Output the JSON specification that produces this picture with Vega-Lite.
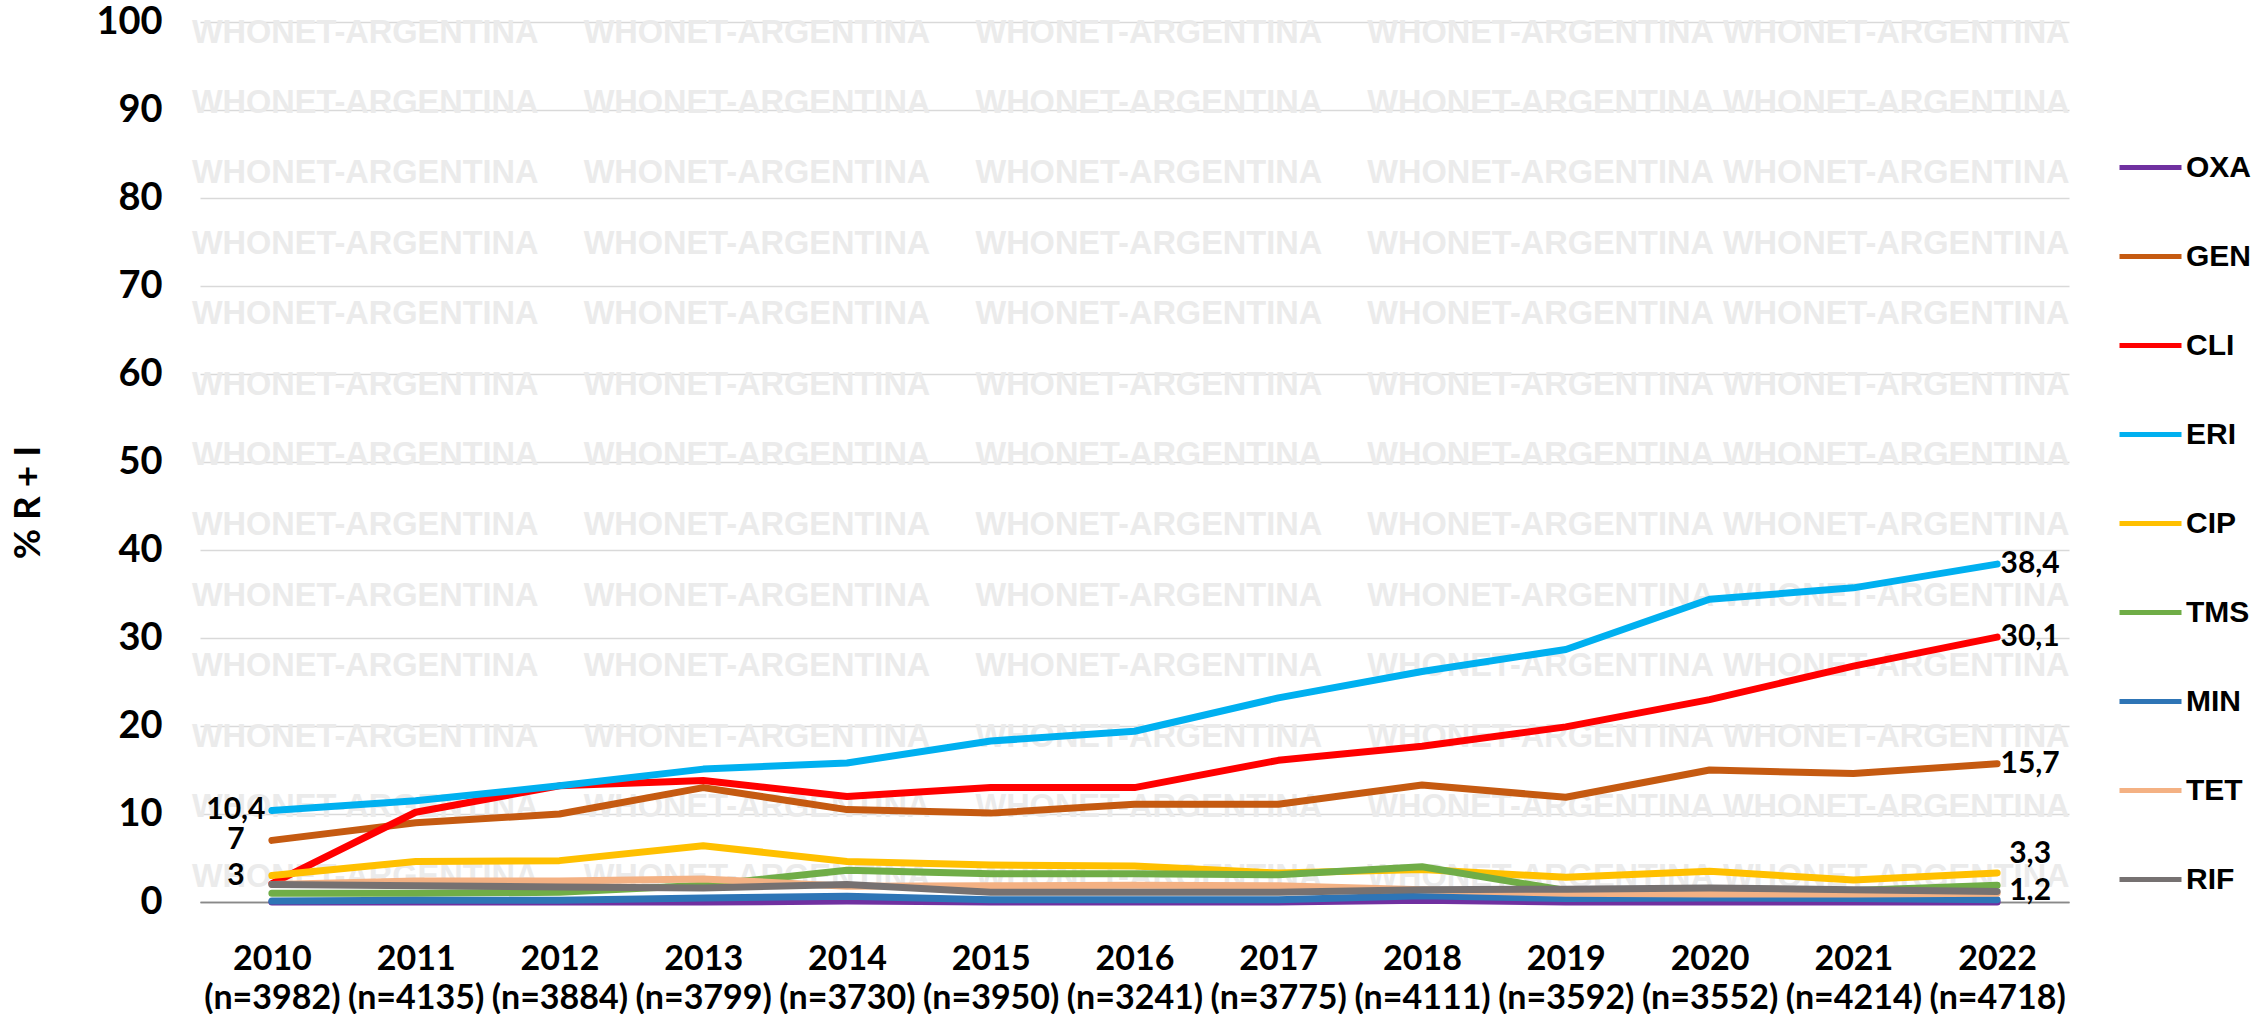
{
  "$schema": "https://vega.github.io/schema/vega-lite/v6.json",
  "autosize": "none",
  "width": 1869,
  "height": 880,
  "padding": {"left": 200, "top": 22, "right": 194, "bottom": 112},
  "background": "white",
  "config": {"view": {"stroke": null}},
  "datasets": {
    "wm": [
      {"v": 98.8}, {"v": 90.8}, {"v": 82.8}, {"v": 74.8}, {"v": 66.8}, {"v": 58.8}, {"v": 50.8},
      {"v": 42.8}, {"v": 34.8}, {"v": 26.8}, {"v": 18.8}, {"v": 10.8}, {"v": 2.8}
    ],
    "main": [
      {"period": "2010 (n=3982)", "series": "OXA", "value": 0},
      {"period": "2011 (n=4135)", "series": "OXA", "value": 0},
      {"period": "2012 (n=3884)", "series": "OXA", "value": 0},
      {"period": "2013 (n=3799)", "series": "OXA", "value": 0},
      {"period": "2014 (n=3730)", "series": "OXA", "value": 0.1},
      {"period": "2015 (n=3950)", "series": "OXA", "value": 0},
      {"period": "2016 (n=3241)", "series": "OXA", "value": 0},
      {"period": "2017 (n=3775)", "series": "OXA", "value": 0},
      {"period": "2018 (n=4111)", "series": "OXA", "value": 0.2},
      {"period": "2019 (n=3592)", "series": "OXA", "value": 0},
      {"period": "2020 (n=3552)", "series": "OXA", "value": 0},
      {"period": "2021 (n=4214)", "series": "OXA", "value": 0},
      {"period": "2022 (n=4718)", "series": "OXA", "value": 0},

      {"period": "2010 (n=3982)", "series": "GEN", "value": 7, "label": "7"},
      {"period": "2011 (n=4135)", "series": "GEN", "value": 9.0},
      {"period": "2012 (n=3884)", "series": "GEN", "value": 10.0},
      {"period": "2013 (n=3799)", "series": "GEN", "value": 13.0},
      {"period": "2014 (n=3730)", "series": "GEN", "value": 10.5},
      {"period": "2015 (n=3950)", "series": "GEN", "value": 10.1},
      {"period": "2016 (n=3241)", "series": "GEN", "value": 11.1},
      {"period": "2017 (n=3775)", "series": "GEN", "value": 11.1},
      {"period": "2018 (n=4111)", "series": "GEN", "value": 13.3},
      {"period": "2019 (n=3592)", "series": "GEN", "value": 11.9},
      {"period": "2020 (n=3552)", "series": "GEN", "value": 15.0},
      {"period": "2021 (n=4214)", "series": "GEN", "value": 14.6},
      {"period": "2022 (n=4718)", "series": "GEN", "value": 15.7, "label": "15,7"},

      {"period": "2010 (n=3982)", "series": "CLI", "value": 2.1},
      {"period": "2011 (n=4135)", "series": "CLI", "value": 10.2},
      {"period": "2012 (n=3884)", "series": "CLI", "value": 13.2},
      {"period": "2013 (n=3799)", "series": "CLI", "value": 13.8},
      {"period": "2014 (n=3730)", "series": "CLI", "value": 12.0},
      {"period": "2015 (n=3950)", "series": "CLI", "value": 13.0},
      {"period": "2016 (n=3241)", "series": "CLI", "value": 13.0},
      {"period": "2017 (n=3775)", "series": "CLI", "value": 16.1},
      {"period": "2018 (n=4111)", "series": "CLI", "value": 17.7},
      {"period": "2019 (n=3592)", "series": "CLI", "value": 19.9},
      {"period": "2020 (n=3552)", "series": "CLI", "value": 23.0},
      {"period": "2021 (n=4214)", "series": "CLI", "value": 26.8},
      {"period": "2022 (n=4718)", "series": "CLI", "value": 30.1, "label": "30,1"},

      {"period": "2010 (n=3982)", "series": "ERI", "value": 10.4, "label": "10,4"},
      {"period": "2011 (n=4135)", "series": "ERI", "value": 11.5},
      {"period": "2012 (n=3884)", "series": "ERI", "value": 13.2},
      {"period": "2013 (n=3799)", "series": "ERI", "value": 15.1},
      {"period": "2014 (n=3730)", "series": "ERI", "value": 15.8},
      {"period": "2015 (n=3950)", "series": "ERI", "value": 18.3},
      {"period": "2016 (n=3241)", "series": "ERI", "value": 19.4},
      {"period": "2017 (n=3775)", "series": "ERI", "value": 23.2},
      {"period": "2018 (n=4111)", "series": "ERI", "value": 26.2},
      {"period": "2019 (n=3592)", "series": "ERI", "value": 28.7},
      {"period": "2020 (n=3552)", "series": "ERI", "value": 34.4},
      {"period": "2021 (n=4214)", "series": "ERI", "value": 35.7},
      {"period": "2022 (n=4718)", "series": "ERI", "value": 38.4, "label": "38,4"},

      {"period": "2010 (n=3982)", "series": "CIP", "value": 3, "label": "3"},
      {"period": "2011 (n=4135)", "series": "CIP", "value": 4.6},
      {"period": "2012 (n=3884)", "series": "CIP", "value": 4.7},
      {"period": "2013 (n=3799)", "series": "CIP", "value": 6.4},
      {"period": "2014 (n=3730)", "series": "CIP", "value": 4.6},
      {"period": "2015 (n=3950)", "series": "CIP", "value": 4.2},
      {"period": "2016 (n=3241)", "series": "CIP", "value": 4.1},
      {"period": "2017 (n=3775)", "series": "CIP", "value": 3.3},
      {"period": "2018 (n=4111)", "series": "CIP", "value": 3.7},
      {"period": "2019 (n=3592)", "series": "CIP", "value": 2.8},
      {"period": "2020 (n=3552)", "series": "CIP", "value": 3.5},
      {"period": "2021 (n=4214)", "series": "CIP", "value": 2.5},
      {"period": "2022 (n=4718)", "series": "CIP", "value": 3.3, "label": "3,3"},

      {"period": "2010 (n=3982)", "series": "TMS", "value": 1.0},
      {"period": "2011 (n=4135)", "series": "TMS", "value": 1.0},
      {"period": "2012 (n=3884)", "series": "TMS", "value": 1.1},
      {"period": "2013 (n=3799)", "series": "TMS", "value": 1.9},
      {"period": "2014 (n=3730)", "series": "TMS", "value": 3.6},
      {"period": "2015 (n=3950)", "series": "TMS", "value": 3.2},
      {"period": "2016 (n=3241)", "series": "TMS", "value": 3.2},
      {"period": "2017 (n=3775)", "series": "TMS", "value": 3.1},
      {"period": "2018 (n=4111)", "series": "TMS", "value": 4.0},
      {"period": "2019 (n=3592)", "series": "TMS", "value": 1.3},
      {"period": "2020 (n=3552)", "series": "TMS", "value": 1.4},
      {"period": "2021 (n=4214)", "series": "TMS", "value": 1.3},
      {"period": "2022 (n=4718)", "series": "TMS", "value": 1.9},

      {"period": "2010 (n=3982)", "series": "MIN", "value": 0.1},
      {"period": "2011 (n=4135)", "series": "MIN", "value": 0.2},
      {"period": "2012 (n=3884)", "series": "MIN", "value": 0.2},
      {"period": "2013 (n=3799)", "series": "MIN", "value": 0.45},
      {"period": "2014 (n=3730)", "series": "MIN", "value": 0.65},
      {"period": "2015 (n=3950)", "series": "MIN", "value": 0.25},
      {"period": "2016 (n=3241)", "series": "MIN", "value": 0.25},
      {"period": "2017 (n=3775)", "series": "MIN", "value": 0.25},
      {"period": "2018 (n=4111)", "series": "MIN", "value": 0.7},
      {"period": "2019 (n=3592)", "series": "MIN", "value": 0.4},
      {"period": "2020 (n=3552)", "series": "MIN", "value": 0.45},
      {"period": "2021 (n=4214)", "series": "MIN", "value": 0.4},
      {"period": "2022 (n=4718)", "series": "MIN", "value": 0.25},

      {"period": "2010 (n=3982)", "series": "TET", "value": 2.0},
      {"period": "2011 (n=4135)", "series": "TET", "value": 2.4},
      {"period": "2012 (n=3884)", "series": "TET", "value": 2.4},
      {"period": "2013 (n=3799)", "series": "TET", "value": 2.6},
      {"period": "2014 (n=3730)", "series": "TET", "value": 1.8},
      {"period": "2015 (n=3950)", "series": "TET", "value": 1.85},
      {"period": "2016 (n=3241)", "series": "TET", "value": 1.9},
      {"period": "2017 (n=3775)", "series": "TET", "value": 1.85},
      {"period": "2018 (n=4111)", "series": "TET", "value": 1.4},
      {"period": "2019 (n=3592)", "series": "TET", "value": 1.0},
      {"period": "2020 (n=3552)", "series": "TET", "value": 0.9},
      {"period": "2021 (n=4214)", "series": "TET", "value": 0.9},
      {"period": "2022 (n=4718)", "series": "TET", "value": 1.0},

      {"period": "2010 (n=3982)", "series": "RIF", "value": 2.0},
      {"period": "2011 (n=4135)", "series": "RIF", "value": 1.85},
      {"period": "2012 (n=3884)", "series": "RIF", "value": 1.7},
      {"period": "2013 (n=3799)", "series": "RIF", "value": 1.6},
      {"period": "2014 (n=3730)", "series": "RIF", "value": 2.0},
      {"period": "2015 (n=3950)", "series": "RIF", "value": 1.1},
      {"period": "2016 (n=3241)", "series": "RIF", "value": 1.1},
      {"period": "2017 (n=3775)", "series": "RIF", "value": 1.1},
      {"period": "2018 (n=4111)", "series": "RIF", "value": 1.4},
      {"period": "2019 (n=3592)", "series": "RIF", "value": 1.45},
      {"period": "2020 (n=3552)", "series": "RIF", "value": 1.6},
      {"period": "2021 (n=4214)", "series": "RIF", "value": 1.4},
      {"period": "2022 (n=4718)", "series": "RIF", "value": 1.2, "label": "1,2"}
    ]
  },
  "encoding": {
    "x": {
      "field": "period",
      "type": "nominal",
      "sort": null,
      "scale": {"type": "point", "padding": 0.5},
      "axis": {
        "title": null,
        "labelAngle": 0,
        "labelExpr": "split(datum.value, ' ')",
        "labelFont": "Lato",
        "labelFontSize": 34,
        "labelFontWeight": "bold",
        "labelColor": "black",
        "labelLineHeight": 39,
        "labelPadding": 40,
        "ticks": false,
        "grid": false,
        "domain": true,
        "domainColor": "#898989",
        "domainWidth": 1.5
      }
    },
    "y": {
      "field": "value",
      "type": "quantitative",
      "scale": {"domain": [0, 100], "nice": false, "zero": true},
      "axis": {
        "title": "% R + I",
        "titleFont": "Lato",
        "titleFontSize": 37,
        "titleFontWeight": "bold",
        "titleColor": "black",
        "titleAngle": -90,
        "titleX": -172,
        "titleY": 480,
        "titleAlign": "center",
        "titleBaseline": "middle",
        "values": [0, 10, 20, 30, 40, 50, 60, 70, 80, 90, 100],
        "labelFont": "Lato",
        "labelFontSize": 38,
        "labelFontWeight": "bold",
        "labelColor": "black",
        "labelPadding": 38,
        "ticks": false,
        "domain": false,
        "grid": true,
        "gridColor": {"condition": {"test": "datum.value === 0", "value": "#898989"}, "value": "#D9D9D9"},
        "gridWidth": 1.5
      }
    }
  },
  "layer": [
    {
      "data": {"name": "wm"},
      "mark": {
        "type": "text",
        "align": "left",
        "baseline": "middle",
        "dx": -80,
        "font": "Liberation Sans",
        "fontWeight": "bold",
        "fontSize": 32.5,
        "color": "#EBEBEB",
        "text": "WHONET-ARGENTINA\u00a0\u00a0\u00a0\u00a0\u00a0WHONET-ARGENTINA\u00a0\u00a0\u00a0\u00a0\u00a0WHONET-ARGENTINA\u00a0\u00a0\u00a0\u00a0\u00a0WHONET-ARGENTINA\u00a0WHONET-ARGENTINA"
      },
      "encoding": {
        "x": {"datum": "2010 (n=3982)"},
        "y": {"field": "v", "type": "quantitative"}
      }
    },
    {
      "data": {"name": "main"},
      "mark": {"type": "line", "strokeWidth": 7, "strokeCap": "round", "strokeJoin": "round"},
      "encoding": {
        "color": {
          "field": "series",
          "type": "nominal",
          "scale": {
            "domain": ["OXA", "GEN", "CLI", "ERI", "CIP", "TMS", "MIN", "TET", "RIF"],
            "range": ["#7030A0", "#C55A11", "#FF0000", "#00B0F0", "#FFC000", "#70AD47", "#2E75B6", "#F4B183", "#767171"]
          },
          "legend": {
            "orient": "none",
            "legendX": 1917,
            "legendY": 112,
            "title": null,
            "symbolType": "stroke",
            "symbolSize": 3844,
            "symbolStrokeWidth": 5,
            "labelFont": "Liberation Sans",
            "labelFontSize": 30,
            "labelFontWeight": "bold",
            "labelColor": "black",
            "labelOffset": 2,
            "rowPadding": 40
          }
        }
      }
    },
    {
      "data": {"name": "main"},
      "transform": [{"filter": "datum.label != null && indexof(datum.period, '2010') === 0"}],
      "mark": {"type": "text", "align": "center", "baseline": "middle", "dx": -36, "font": "Lato", "fontWeight": "bold", "fontSize": 30, "color": "black"},
      "encoding": {"text": {"field": "label"}}
    },
    {
      "data": {"name": "main"},
      "transform": [{"filter": "datum.label != null && indexof(datum.period, '2022') === 0 && datum.series !== 'CIP'"}],
      "mark": {"type": "text", "align": "center", "baseline": "middle", "dx": 33, "font": "Lato", "fontWeight": "bold", "fontSize": 30, "color": "black"},
      "encoding": {"text": {"field": "label"}}
    },
    {
      "data": {"name": "main"},
      "transform": [{"filter": "datum.label != null && indexof(datum.period, '2022') === 0 && datum.series === 'CIP'"}],
      "mark": {"type": "text", "align": "center", "baseline": "middle", "dx": 33, "dy": -19, "font": "Lato", "fontWeight": "bold", "fontSize": 30, "color": "black"},
      "encoding": {"text": {"field": "label"}}
    }
  ]
}
